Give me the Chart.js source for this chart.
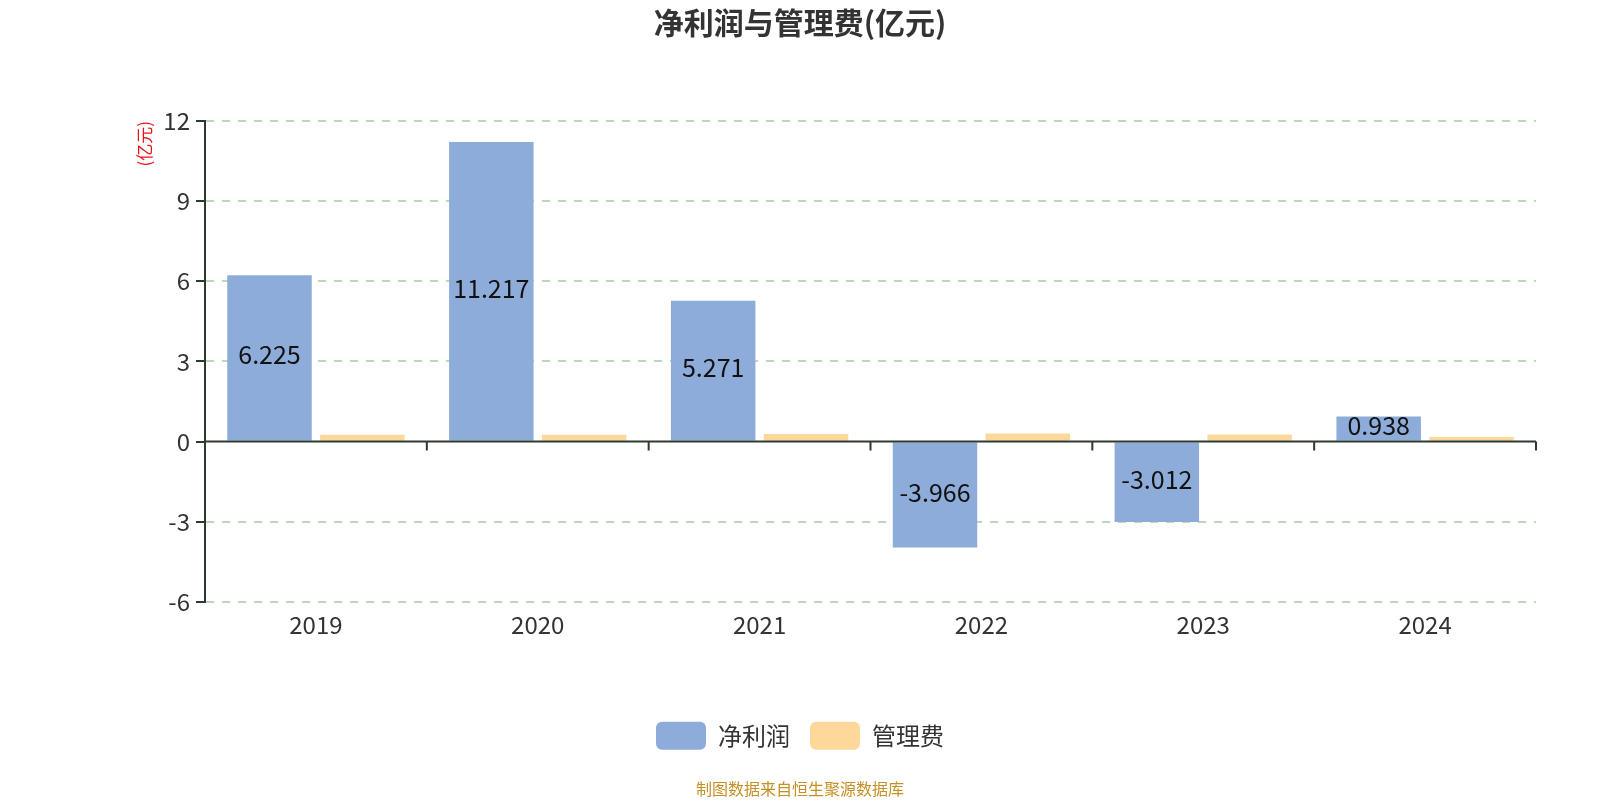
<!DOCTYPE html>
<html>
<head>
<meta charset="utf-8">
<script src="https://cdn.jsdelivr.net/npm/chart.js@4/dist/chart.umd.min.js"></script>
<style>
  html, body { margin: 0; padding: 0; background: #fff; }
</style>
</head>
<body>
<canvas id="chart" width="1600" height="800"></canvas>
<script>
const years = ['2019', '2020', '2021', '2022', '2023', '2024']
const netProfit = [6.225, 11.217, 5.271, -3.966, -3.012, 0.938]
const adminFee = [0.25, 0.25, 0.28, 0.30, 0.26, 0.17]
const seriesNames = ['净利润', '管理费']
const yTicks = { min: -6, max: 12, step: 3 }

const FONT = '"Noto Sans CJK SC", "Noto Sans", sans-serif'
const AXIS_COLOR = '#2f3a2f'

// zero line with category ticks hanging below it
const zeroAxis = {
  id: 'zeroAxis',
  afterDatasetsDraw(chart) {
    const { ctx, scales: { x, y } } = chart
    const y0 = y.getPixelForValue(0)
    ctx.save()
    ctx.strokeStyle = AXIS_COLOR
    ctx.lineWidth = 2
    ctx.beginPath()
    ctx.moveTo(x.left, y0)
    ctx.lineTo(x.right, y0)
    for (let i = 1; i <= years.length; i++) {
      const px = x.getPixelForValue(i - 0.5)
      ctx.moveTo(px, y0)
      ctx.lineTo(px, y0 + 9)
    }
    ctx.stroke()
    ctx.restore()
  }
}

// value labels in the middle of the net profit bars
const barLabels = {
  id: 'barLabels',
  afterDatasetsDraw(chart) {
    const { ctx } = chart
    const meta = chart.getDatasetMeta(0)
    ctx.save()
    ctx.font = '25px ' + FONT
    ctx.fillStyle = '#111'
    ctx.textAlign = 'center'
    ctx.textBaseline = 'middle'
    meta.data.forEach((bar, i) => {
      const { x, y, base } = bar.getProps(['x', 'y', 'base'], true)
      ctx.fillText(netProfit[i].toFixed(3), x, (y + base) / 2 - 3)
    })
    ctx.restore()
  }
}

new Chart(document.getElementById('chart').getContext('2d'), {
  type: 'bar',
  data: {
    labels: years,
    datasets: [
      { label: seriesNames[0], data: netProfit, backgroundColor: '#8eacd9' },
      { label: seriesNames[1], data: adminFee, backgroundColor: '#fdd89a' }
    ]
  },
  options: {
    responsive: false,
    animation: false,
    devicePixelRatio: 1,
    categoryPercentage: 0.837,
    barPercentage: 0.91,
    layout: { padding: { left: 64, right: 64, top: 0, bottom: 0 } },
    plugins: {
      title: {
        display: true,
        text: '净利润与管理费(亿元)',
        color: '#333',
        font: { family: FONT, size: 30, weight: 'bold' },
        padding: { top: 5, bottom: 80 }
      },
      subtitle: {
        display: true,
        position: 'bottom',
        text: '制图数据来自恒生聚源数据库',
        color: '#c48f25',
        font: { family: FONT, size: 16 },
        padding: { top: 20, bottom: 1 }
      },
      legend: {
        position: 'bottom',
        labels: {
          boxWidth: 50,
          boxHeight: 28,
          useBorderRadius: true,
          borderRadius: 6,
          padding: 20,
          color: '#333',
          font: { family: FONT, size: 24 }
        }
      },
      tooltip: { enabled: false }
    },
    scales: {
      x: {
        grid: { display: false, drawTicks: false },
        border: { display: false },
        ticks: { color: '#333', font: { family: FONT, size: 24 }, padding: 9 },
        afterFit: (s) => { s.height = 100 }
      },
      y: {
        min: yTicks.min,
        max: yTicks.max,
        afterFit: (s) => { s.width = 141 },
        ticks: {
          stepSize: yTicks.step,
          color: '#333',
          padding: 6,
          font: { family: FONT, size: 24 }
        },
        grid: {
          color: (c) => (c.tick && c.tick.value === 0 ? 'rgba(0,0,0,0)' : '#bcd8bc'),
          lineWidth: 2,
          tickColor: AXIS_COLOR,
          tickLength: 9,
          tickWidth: 2,
          tickBorderDash: []
        },
        border: { display: true, color: AXIS_COLOR, width: 2, dash: [8, 8] },
        title: {
          display: true,
          text: '(亿元)',
          align: 'end',
          color: '#e8141b',
          font: { family: FONT, size: 17 },
          padding: { top: 70, bottom: 0 }
        }
      }
    }
  },
  plugins: [zeroAxis, barLabels]
})
</script>
</body>
</html>
